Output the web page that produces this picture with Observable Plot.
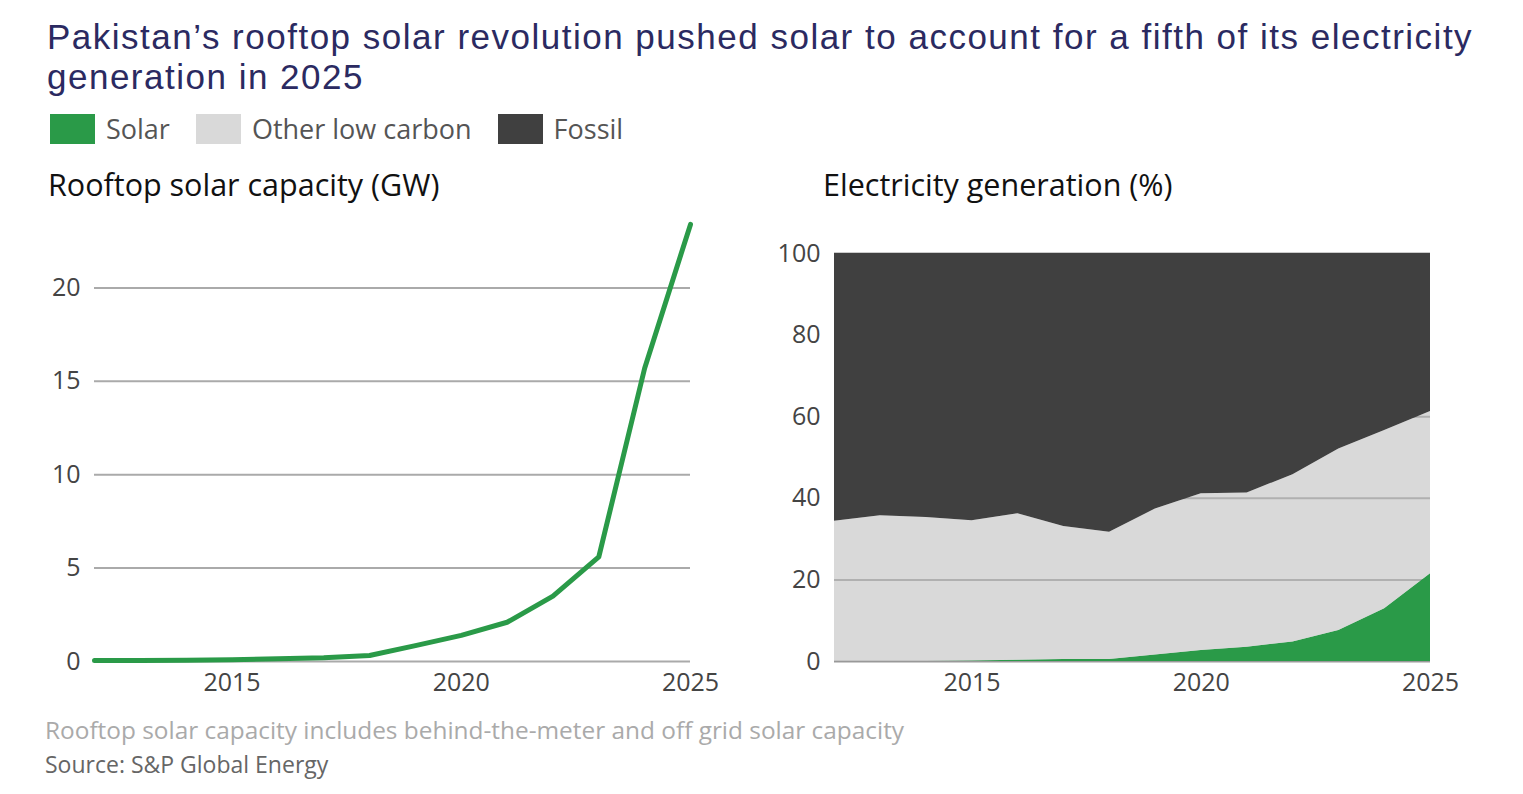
<!DOCTYPE html>
<html><head><meta charset="utf-8">
<script src="https://cdn.jsdelivr.net/npm/d3@7"></script>
<script src="https://cdn.jsdelivr.net/npm/@observablehq/plot@0.6"></script>
<style>
body{margin:0;background:#fff;font-family:"Open Sans",sans-serif;width:1523px;height:794px;position:relative;overflow:hidden}
.abs{position:absolute;white-space:nowrap}
.title{left:47px;font-family:"Liberation Sans",sans-serif;font-size:35px;letter-spacing:1.5px;line-height:38px;color:#2b2a61}
#legend{left:50px;top:110px;display:flex;align-items:center;font-size:27px;color:#555}
#legend .sw{width:45px;height:30px;margin-right:11px}
#legend .it{display:flex;align-items:center;margin-right:26px}
.sub{top:163px;font-size:30.5px;color:#111}
#cap1{left:45px;top:713px;font-size:24.4px;color:#aaa}
#cap2{left:45px;top:748px;font-size:23px;color:#666}
svg text{font-family:"Open Sans",sans-serif}
</style></head><body>
<div class="abs title" style="top:18px">Pakistan’s rooftop solar revolution pushed solar to account for a fifth of its electricity</div>
<div class="abs title" style="top:58px">generation in 2025</div>
<div id="legend" class="abs"></div>
<div class="abs sub" style="left:48px">Rooftop solar capacity (GW)</div>
<div class="abs sub" style="left:823px">Electricity generation (%)</div>
<div id="left" class="abs" style="left:0;top:190px"></div>
<div id="right" class="abs" style="left:760px;top:190px"></div>
<div id="cap1" class="abs">Rooftop solar capacity includes behind-the-meter and off grid solar capacity</div>
<div id="cap2" class="abs">Source: S&amp;P Global Energy</div>
<script>
const years = [2012,2013,2014,2015,2016,2017,2018,2019,2020,2021,2022,2023,2024,2025];
const rooftopGW = [0.05,0.05,0.07,0.1,0.15,0.2,0.32,0.85,1.4,2.1,3.5,5.6,15.7,23.4];
const solarShare = [0,0,0,0.1,0.3,0.5,0.5,1.6,2.7,3.5,4.8,7.6,12.9,21.5];
const lowCarbonShare = [34.4,35.7,35.3,34.5,36.2,33.1,31.7,37.4,41.1,41.3,45.8,52.1,56.6,61.3];
const seriesNames = ["Solar","Other low carbon","Fossil"];
const seriesColors = ["#2a9a48","#d9d9d9","#404040"];
const xTicks = [2015,2020,2025];
const yTicksLeft = [0,5,10,15,20];
const yTicksRight = [0,20,40,60,80,100];

// legend
const lg = document.getElementById("legend");
seriesNames.forEach((n,i)=>{
  const it=document.createElement("div");it.className="it";
  it.innerHTML=`<div class="sw" style="background:${seriesColors[i]}"></div><span>${n}</span>`;
  lg.appendChild(it);
});

const capData = years.map((y,i)=>({year:y, gw:rooftopGW[i]}));
const genData = [];
years.forEach((y,i)=>{
  genData.push({year:y, series:"Solar", v:solarShare[i]});
  genData.push({year:y, series:"Other low carbon", v:lowCarbonShare[i]-solarShare[i]});
  genData.push({year:y, series:"Fossil", v:100-lowCarbonShare[i]});
});

const common = {
  style:{fontSize:"25px", color:"#444", fontFamily:"Open Sans"},
};

const left = Plot.plot({
  ...common,
  width:760, height:510, marginLeft:94, marginRight:70, marginTop:4, marginBottom:39,
  x:{domain:[2012,2025], ticks:xTicks, tickFormat:"d", tickSize:0, tickPadding:12, label:null},
  y:{domain:[0,25], ticks:yTicksLeft, tickSize:0, tickPadding:14, label:null},
  marks:[
    Plot.ruleY(yTicksLeft,{stroke:"#aaa", strokeWidth:2}),
    Plot.line(capData,{x:"year", y:"gw", stroke:seriesColors[0], strokeWidth:5})
  ]
});
document.getElementById("left").appendChild(left);

const right = Plot.plot({
  ...common,
  width:763, height:510, marginLeft:74, marginRight:93, marginTop:63, marginBottom:39,
  x:{domain:[2012,2025], ticks:xTicks, tickFormat:"d", tickSize:0, tickPadding:12, label:null},
  y:{domain:[0,100], ticks:yTicksRight, tickSize:0, tickPadding:14, label:null},
  marks:[
    Plot.ruleY(yTicksRight,{stroke:"#999", strokeWidth:2}),
    Plot.areaY(genData,{x:"year", y:"v", z:"series", order:seriesNames,
      fill:d=>d.series,
      fillOpacity:d=>d.series==="Other low carbon"?0.6:1}),
  ],
  color:{domain:seriesNames, range:["#2a9a48","#c0c0c0","#404040"]}
});
document.getElementById("right").appendChild(right);
</script>
</body></html>
